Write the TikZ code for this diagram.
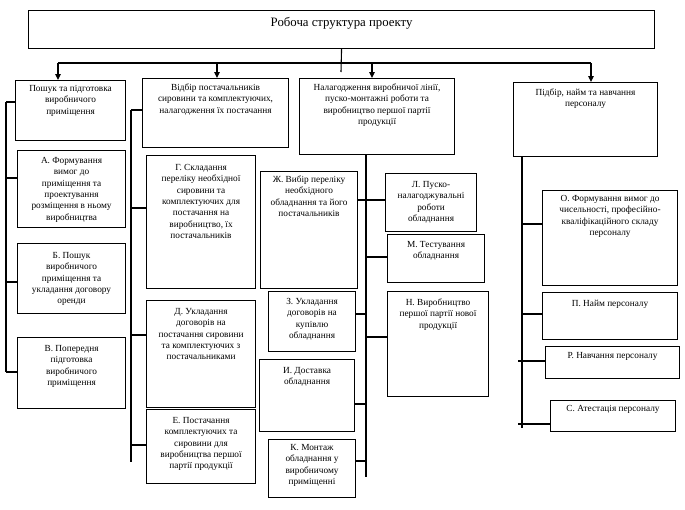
\documentclass[tikz,border=0pt]{standalone}
\usepackage{fontspec}
\setmainfont{Liberation Serif}
\usetikzlibrary{arrows.meta}
\newcommand\wbstext[4][13pt]{\vbox to #3{\hbox to #2{\hss\parbox[t]{\dimexpr #2-2pt\relax}{\centering\rule{0pt}{#1}#4\par}\hss}\vss}}
\tikzset{
  wbs/.style={draw, line width=1.1pt, inner sep=0pt, anchor=north west, font=\fontsize{9.3}{11.3}\selectfont},
  ln/.style={line width=1.1pt},
  arr/.style={line width=1.1pt, -{Triangle[length=6pt,width=5.5pt]}}
}
\begin{document}
\begin{tikzpicture}[x=1pt,y=-1pt]
\useasboundingbox (0,0) rectangle (685,509);
\fill[white] (0,0) rectangle (685,509);
% top
\node[wbs, font=\fontsize{12.8}{14}\selectfont] (top) at (28,10) {\wbstext[16pt]{626pt}{38pt}{Робоча структура проекту}};
% level 1
\node[wbs] (posh) at (15,80) {\wbstext[11pt]{110pt}{60pt}{Пошук та підготовка\\виробничого\\приміщення}};
\node[wbs] (vidb) at (142,78) {\wbstext[12pt]{146pt}{69pt}{Відбір постачальників\\сировини та комплектуючих,\\налагодження їх постачання}};
\node[wbs] (nal) at (299,78) {\wbstext[12pt]{155pt}{76pt}{Налагодження виробничої лінії,\\пуско-монтажні роботи та\\виробництво першої партії\\продукції}};
\node[wbs] (pidb) at (513,82) {\wbstext[13pt]{144pt}{74pt}{Підбір, найм та навчання\\персоналу}};
% column 1
\node[wbs] (a) at (17,150) {\wbstext[13pt]{108pt}{77pt}{А. Формування\\вимог до\\приміщення та\\проектування\\розміщення в ньому\\виробництва}};
\node[wbs] (b) at (17,243) {\wbstext[15pt]{108pt}{70pt}{Б. Пошук\\виробничого\\приміщення та\\укладання договору\\оренди}};
\node[wbs] (v) at (17,337) {\wbstext[14pt]{108pt}{71pt}{В. Попередня\\підготовка\\виробничого\\приміщення}};
% column 2
\node[wbs] (g) at (146,155) {\wbstext[15pt]{109pt}{133pt}{Г. Складання\\переліку необхідної\\сировини та\\комплектуючих для\\постачання на\\виробництво, їх\\постачальників}};
\node[wbs] (d) at (146,300) {\wbstext[14pt]{109pt}{107pt}{Д. Укладання\\договорів на\\постачання сировини\\та комплектуючих з\\постачальниками}};
\node[wbs] (e) at (146,409) {\wbstext[14pt]{109pt}{74pt}{Е. Постачання\\комплектуючих та\\сировини для\\виробництва першої\\партії продукції}};
% column 3
\node[wbs] (zh) at (260,171) {\wbstext[11pt]{97pt}{117pt}{Ж. Вибір переліку\\необхідного\\обладнання та його\\постачальників}};
\node[wbs] (z) at (268,291) {\wbstext[13pt]{87pt}{60pt}{З. Укладання\\договорів на\\купівлю\\обладнання}};
\node[wbs] (y) at (259,359) {\wbstext[14pt]{95pt}{72pt}{И. Доставка\\обладнання}};
\node[wbs] (k) at (268,439) {\wbstext[11pt]{87pt}{58pt}{К. Монтаж\\обладнання у\\виробничому\\приміщенні}};
\node[wbs] (l) at (385,173) {\wbstext[14pt]{91pt}{58pt}{Л. Пуско-\\налагоджувальні\\роботи\\обладнання}};
\node[wbs] (m) at (387,234) {\wbstext[13pt]{97pt}{48pt}{М. Тестування\\обладнання}};
\node[wbs] (n) at (387,291) {\wbstext[14pt]{101pt}{105pt}{Н. Виробництво\\першої партії нової\\продукції}};
% column 4
\node[wbs] (o) at (542,190) {\wbstext[11pt]{135pt}{95pt}{О. Формування вимог до\\чисельності, професійно-\\кваліфікаційного складу\\персоналу}};
\node[wbs] (p) at (542,292) {\wbstext[14pt]{135pt}{47pt}{П. Найм персоналу}};
\node[wbs] (r) at (545,346) {\wbstext[12pt]{134pt}{32pt}{Р. Навчання персоналу}};
\node[wbs] (s) at (550,400) {\wbstext[11pt]{125pt}{31pt}{С. Атестація персоналу}};
% top connectors
\coordinate (hub) at (341,72);
\draw[ln] (top.south) -- (hub);
\coordinate (hl) at (58,63);
\coordinate (h2) at (217,63);
\coordinate (h3) at (372,63);
\coordinate (hr) at (591,63);
\draw[ln] (hl) -- (hr);
\draw[arr] (hl) -- (hl |- posh.north);
\draw[arr] (h2) -- (h2 |- vidb.north);
\draw[arr] (h3) -- (h3 |- nal.north);
\draw[arr] (hr) -- (hr |- pidb.north);
% bus 1
\coordinate (b1a) at (6,102);
\coordinate (b1b) at (6,178);
\coordinate (b1c) at (6,282);
\coordinate (b1d) at (6,372);
\draw[ln] (b1a) -- (b1d);
\draw[ln] (b1a) -- (b1a -| posh.west);
\draw[ln] (b1b) -- (b1b -| a.west);
\draw[ln] (b1c) -- (b1c -| b.west);
\draw[ln] (b1d) -- (b1d -| v.west);
% bus 2
\coordinate (b2a) at (131,110);
\coordinate (b2b) at (131,208);
\coordinate (b2c) at (131,335);
\coordinate (b2d) at (131,445);
\coordinate (b2e) at (131,462);
\draw[ln] (b2a) -- (b2e);
\draw[ln] (b2a) -- (b2a -| vidb.west);
\draw[ln] (b2b) -- (b2b -| g.west);
\draw[ln] (b2c) -- (b2c -| d.west);
\draw[ln] (b2d) -- (b2d -| e.west);
% bus 3
\coordinate (b3a) at (366,200);
\coordinate (b3b) at (366,257);
\coordinate (b3c) at (366,314);
\coordinate (b3d) at (366,337);
\coordinate (b3f) at (366,404);
\coordinate (b3g) at (366,461);
\coordinate (b3e) at (366,477);
\draw[ln] (b3e |- nal.south) -- (b3e);
\draw[ln] (zh.east |- b3a) -- (b3a) -- (b3a -| l.west);
\draw[ln] (b3b) -- (b3b -| m.west);
\draw[ln] (b3c) -- (b3c -| z.east);
\draw[ln] (b3d) -- (b3d -| n.west);
\draw[ln] (b3f) -- (b3f -| y.east);
\draw[ln] (b3g) -- (b3g -| k.east);
% bus 4
\coordinate (b4a) at (522,224);
\coordinate (b4b) at (522,314);
\coordinate (b4c) at (518,361);
\coordinate (b4d) at (518,424);
\coordinate (b4e) at (522,428);
\draw[ln] (b4e |- pidb.south) -- (b4e);
\draw[ln] (b4a) -- (b4a -| o.west);
\draw[ln] (b4b) -- (b4b -| p.west);
\draw[ln] (b4c) -- (b4c -| r.west);
\draw[ln] (b4d) -- (b4d -| s.west);
\end{tikzpicture}
\end{document}
